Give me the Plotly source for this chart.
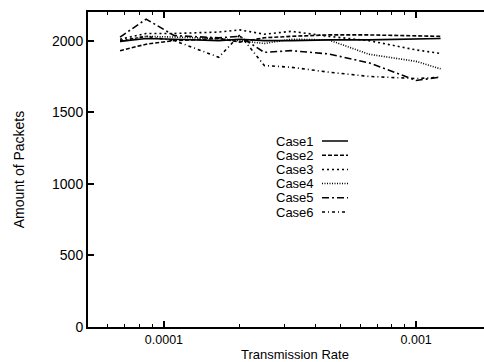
import plotly.graph_objects as go
import math

# ---- data ----
rates = [6.7e-5, 8.5e-5, 1.1e-4, 1.65e-4, 2e-4, 2.5e-4, 3.2e-4, 4.5e-4, 6.5e-4, 1e-3, 1.25e-3]
case1 = [1995, 2015, 2010, 2000, 2010, 2000, 2000, 2005, 2005, 2010, 2015]
case2 = [1930, 1975, 2000, 2015, 1990, 2020, 2030, 2040, 2040, 2030, 2030]
case3 = [2010, 2050, 2050, 2060, 2075, 2045, 2065, 2030, 2000, 1935, 1910]
case4 = [1995, 2030, 2025, 2015, 2000, 1980, 2010, 2005, 1905, 1855, 1803]
case5 = [2025, 2150, 2035, 2020, 2030, 1918, 1930, 1907, 1845, 1722, 1745]
case6 = [2000, 2030, 2000, 1884, 2040, 1826, 1814, 1780, 1750, 1735, 1745]
names = ["Case1", "Case2", "Case3", "Case4", "Case5", "Case6"]
series = [case1, case2, case3, case4, case5, case6]

x_tickvals = [1e-4, 1e-3]
x_ticktext = ["0.0001", "0.001"]
x_minor = [6e-5, 7e-5, 8e-5, 9e-5, 2e-4, 3e-4, 4e-4, 5e-4, 6e-4, 7e-4, 8e-4, 9e-4]
y_tickvals = [0, 500, 1000, 1500, 2000]

dashes = ["solid", "4px,2px", "2px,3px", "1px,1.5px", "7px,3px,2px,3px", "3px,3px,1px,3px"]

FONT = "Liberation Sans, Arial, sans-serif"

fig = go.Figure()
for name, ys, d in zip(names, series, dashes):
    fig.add_trace(go.Scatter(x=rates, y=ys, mode="lines", name=name,
                             line=dict(color="black", width=1.6, dash=d)))

# custom legend (text left, sample right, as in the original)
lx_text = (275 - 88) / 396
lx0 = (322 - 88) / 396
lx1 = (348 - 88) / 396
for i, (name, d) in enumerate(zip(names, dashes)):
    yy = (327 - (141 + 14.2 * i)) / 315
    fig.add_annotation(x=lx_text, y=yy, xref="paper", yref="paper", text=name,
                       showarrow=False, xanchor="left", yanchor="middle", borderpad=0,
                       font=dict(family=FONT, size=13, color="black"))
    fig.add_shape(type="line", xref="paper", yref="paper", x0=lx0, x1=lx1, y0=yy, y1=yy,
                  line=dict(color="black", width=1.5, dash=d))

# x axis title placed as an annotation so it fits the tight bottom margin
fig.add_annotation(x=(295 - 88) / 396, y=(327 - 355) / 315,
                   xref="paper", yref="paper", text="Transmission Rate", showarrow=False,
                   xanchor="center", yanchor="middle", borderpad=0,
                   font=dict(family=FONT, size=13, color="black"))

fig.update_layout(
    width=484, height=362,
    margin=dict(l=88, r=0, t=12, b=35),
    paper_bgcolor="white", plot_bgcolor="white",
    showlegend=False,
    font=dict(family=FONT, size=13, color="black"),
    xaxis=dict(type="log", range=[math.log10(5e-5), -2.731],
               tickvals=x_tickvals, ticktext=x_ticktext,
               ticks="inside", ticklen=6, tickwidth=1.5, tickcolor="black",
               tickfont=dict(size=12.5),
               minor=dict(tickvals=x_minor, ticks="inside", ticklen=3, tickwidth=1.2, tickcolor="black"),
               showline=True, linecolor="black", linewidth=2, mirror="ticks",
               showgrid=False, zeroline=False),
    yaxis=dict(range=[0, 2200], tickvals=y_tickvals,
               ticks="inside", ticklen=6, tickwidth=1.5, tickcolor="black",
               showline=True, linecolor="black", linewidth=2, mirror=False,
               showgrid=False, zeroline=False, ticklabelstandoff=0,
               tickfont=dict(size=14),
               title=dict(text="Amount of Packets", font=dict(size=14), standoff=24)),
)

fig.write_html("out.html", config={"displayModeBar": False},
               post_script="document.body.style.margin='0px';")
